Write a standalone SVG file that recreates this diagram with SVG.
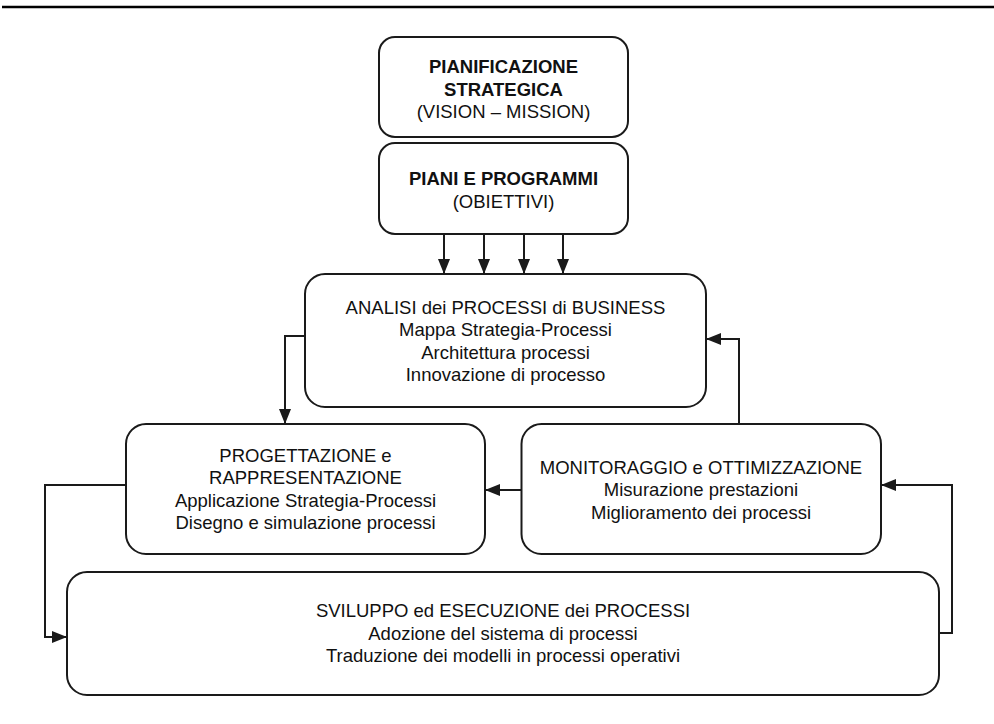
<svg xmlns="http://www.w3.org/2000/svg" width="994" height="724" viewBox="0 0 994 724">
<style>
.box{fill:#fff;stroke:#1a1a1a;stroke-width:2}
.t{font-family:"Liberation Sans",Arial,sans-serif;font-size:18.5px;fill:#111;text-anchor:middle}
.b{font-weight:bold}
.c{fill:none;stroke:#1a1a1a;stroke-width:2}
</style>
<defs>
<marker id="ah" viewBox="0 0 15 12" refX="15" refY="6" markerWidth="15" markerHeight="12" markerUnits="userSpaceOnUse" orient="auto">
<path d="M0,0 L15,6 L0,12 z" fill="#1a1a1a"/>
</marker>
</defs>
<rect width="994" height="724" fill="#fff"/>
<line x1="2" y1="7" x2="994" y2="7" stroke="#000" stroke-width="2.5"/>

<g id="pianificazione">
<rect class="box" x="379" y="37" width="249" height="100" rx="16"/>
<text class="t b" x="503.5" y="73">PIANIFICAZIONE</text>
<text class="t b" x="503.5" y="95.5">STRATEGICA</text>
<text class="t" x="503.5" y="118">(VISION – MISSION)</text>
</g>
<g id="piani">
<rect class="box" x="379" y="143" width="249" height="91" rx="16"/>
<text class="t b" x="503.5" y="185">PIANI E PROGRAMMI</text>
<text class="t" x="503.5" y="207.5">(OBIETTIVI)</text>
</g>
<g id="analisi">
<rect class="box" x="305" y="274" width="401" height="133" rx="20"/>
<text class="t" x="505.5" y="313.5">ANALISI dei PROCESSI di BUSINESS</text>
<text class="t" x="505.5" y="336">Mappa Strategia-Processi</text>
<text class="t" x="505.5" y="358.5">Architettura processi</text>
<text class="t" x="505.5" y="381">Innovazione di processo</text>
</g>
<g id="progettazione">
<rect class="box" x="126" y="424" width="359" height="130" rx="20"/>
<text class="t" x="305.5" y="461.5">PROGETTAZIONE e</text>
<text class="t" x="305.5" y="484">RAPPRESENTAZIONE</text>
<text class="t" x="305.5" y="506.5">Applicazione Strategia-Processi</text>
<text class="t" x="305.5" y="529">Disegno e simulazione processi</text>
</g>
<g id="monitoraggio">
<rect class="box" x="521.5" y="424" width="359.5" height="130" rx="20"/>
<text class="t" x="701" y="473.5">MONITORAGGIO e OTTIMIZZAZIONE</text>
<text class="t" x="701" y="496">Misurazione prestazioni</text>
<text class="t" x="701" y="518.5">Miglioramento dei processi</text>
</g>
<g id="sviluppo">
<rect class="box" x="67" y="572" width="872" height="123" rx="20"/>
<text class="t" x="503" y="617">SVILUPPO ed ESECUZIONE dei PROCESSI</text>
<text class="t" x="503" y="639.5">Adozione del sistema di processi</text>
<text class="t" x="503" y="662">Traduzione dei modelli in processi operativi</text>
</g>

<g id="connectors">
<line class="c" x1="444" y1="234" x2="444" y2="274" marker-end="url(#ah)"/>
<line class="c" x1="484" y1="234" x2="484" y2="274" marker-end="url(#ah)"/>
<line class="c" x1="524" y1="234" x2="524" y2="274" marker-end="url(#ah)"/>
<line class="c" x1="563" y1="234" x2="563" y2="274" marker-end="url(#ah)"/>
<polyline class="c" points="305,336 285,336 285,424" marker-end="url(#ah)"/>
<polyline class="c" points="739,424 739,339 706,339" marker-end="url(#ah)"/>
<line class="c" x1="521.5" y1="490" x2="485" y2="490" marker-end="url(#ah)"/>
<polyline class="c" points="126,485 45,485 45,637 67,637" marker-end="url(#ah)"/>
<polyline class="c" points="939,633 952,633 952,485 881,485" marker-end="url(#ah)"/>
</g>
</svg>
